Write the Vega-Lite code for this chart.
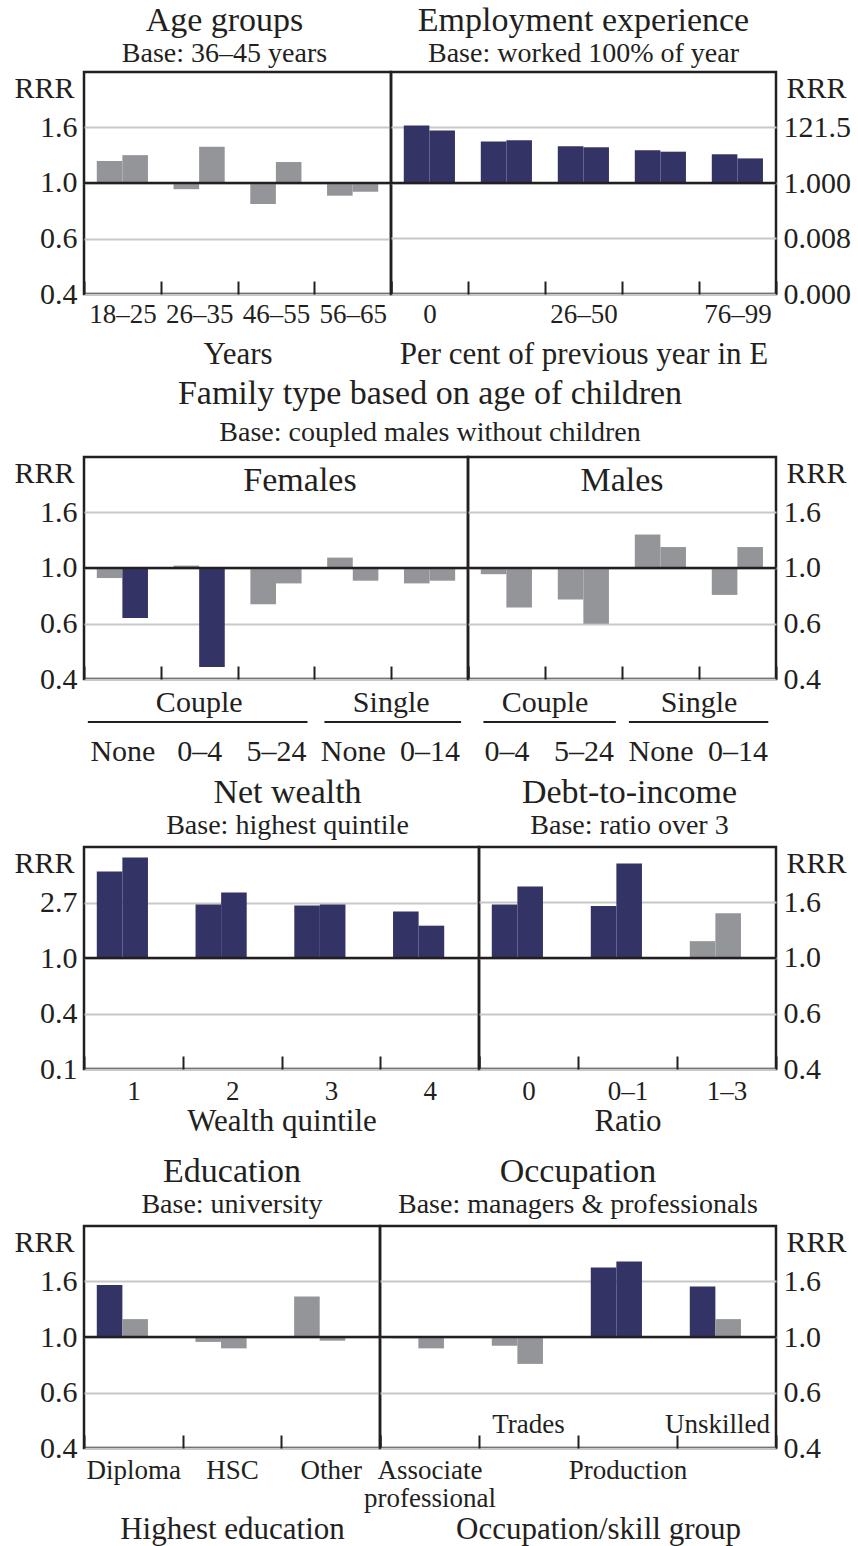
{
  "$schema": "https://vega.github.io/schema/vega-lite/v6.json",
  "padding": {"left": 12, "top": 2, "right": 5, "bottom": 2},
  "background": "white",
  "datasets": {
    "rrr": [
      {"panel": "age", "group": "18–25", "wave": 1, "value": 1.20, "sig": "no"},
      {"panel": "age", "group": "18–25", "wave": 2, "value": 1.26, "sig": "no"},
      {"panel": "age", "group": "26–35", "wave": 1, "value": 0.95, "sig": "no"},
      {"panel": "age", "group": "26–35", "wave": 2, "value": 1.35, "sig": "no"},
      {"panel": "age", "group": "46–55", "wave": 1, "value": 0.84, "sig": "no"},
      {"panel": "age", "group": "46–55", "wave": 2, "value": 1.19, "sig": "no"},
      {"panel": "age", "group": "56–65", "wave": 1, "value": 0.90, "sig": "no"},
      {"panel": "age", "group": "56–65", "wave": 2, "value": 0.93, "sig": "no"},

      {"panel": "emp", "group": "0", "wave": 1, "value": 144, "sig": "yes"},
      {"panel": "emp", "group": "0", "wave": 2, "value": 94, "sig": "yes"},
      {"panel": "emp", "group": "1–25", "wave": 1, "value": 36, "sig": "yes"},
      {"panel": "emp", "group": "1–25", "wave": 2, "value": 40, "sig": "yes"},
      {"panel": "emp", "group": "26–50", "wave": 1, "value": 24, "sig": "yes"},
      {"panel": "emp", "group": "26–50", "wave": 2, "value": 22, "sig": "yes"},
      {"panel": "emp", "group": "51–75", "wave": 1, "value": 17, "sig": "yes"},
      {"panel": "emp", "group": "51–75", "wave": 2, "value": 15, "sig": "yes"},
      {"panel": "emp", "group": "76–99", "wave": 1, "value": 12, "sig": "yes"},
      {"panel": "emp", "group": "76–99", "wave": 2, "value": 8.4, "sig": "yes"},

      {"panel": "fem", "group": "Couple None", "wave": 1, "value": 0.92, "sig": "no"},
      {"panel": "fem", "group": "Couple None", "wave": 2, "value": 0.66, "sig": "yes"},
      {"panel": "fem", "group": "Couple 0–4", "wave": 1, "value": 1.02, "sig": "no"},
      {"panel": "fem", "group": "Couple 0–4", "wave": 2, "value": 0.44, "sig": "yes"},
      {"panel": "fem", "group": "Couple 5–24", "wave": 1, "value": 0.74, "sig": "no"},
      {"panel": "fem", "group": "Couple 5–24", "wave": 2, "value": 0.88, "sig": "no"},
      {"panel": "fem", "group": "Single None", "wave": 1, "value": 1.09, "sig": "no"},
      {"panel": "fem", "group": "Single None", "wave": 2, "value": 0.90, "sig": "no"},
      {"panel": "fem", "group": "Single 0–14", "wave": 1, "value": 0.88, "sig": "no"},
      {"panel": "fem", "group": "Single 0–14", "wave": 2, "value": 0.90, "sig": "no"},

      {"panel": "male", "group": "Couple 0–4", "wave": 1, "value": 0.95, "sig": "no"},
      {"panel": "male", "group": "Couple 0–4", "wave": 2, "value": 0.72, "sig": "no"},
      {"panel": "male", "group": "Couple 5–24", "wave": 1, "value": 0.77, "sig": "no"},
      {"panel": "male", "group": "Couple 5–24", "wave": 2, "value": 0.63, "sig": "no"},
      {"panel": "male", "group": "Single None", "wave": 1, "value": 1.32, "sig": "no"},
      {"panel": "male", "group": "Single None", "wave": 2, "value": 1.19, "sig": "no"},
      {"panel": "male", "group": "Single 0–14", "wave": 1, "value": 0.80, "sig": "no"},
      {"panel": "male", "group": "Single 0–14", "wave": 2, "value": 1.19, "sig": "no"},

      {"panel": "wealth", "group": "1", "wave": 1, "value": 4.75, "sig": "yes"},
      {"panel": "wealth", "group": "1", "wave": 2, "value": 6.11, "sig": "yes"},
      {"panel": "wealth", "group": "2", "wave": 1, "value": 2.62, "sig": "yes"},
      {"panel": "wealth", "group": "2", "wave": 2, "value": 3.25, "sig": "yes"},
      {"panel": "wealth", "group": "3", "wave": 1, "value": 2.57, "sig": "yes"},
      {"panel": "wealth", "group": "3", "wave": 2, "value": 2.62, "sig": "yes"},
      {"panel": "wealth", "group": "4", "wave": 1, "value": 2.31, "sig": "yes"},
      {"panel": "wealth", "group": "4", "wave": 2, "value": 1.79, "sig": "yes"},

      {"panel": "debt", "group": "0", "wave": 1, "value": 1.56, "sig": "yes"},
      {"panel": "debt", "group": "0", "wave": 2, "value": 1.81, "sig": "yes"},
      {"panel": "debt", "group": "0–1", "wave": 1, "value": 1.54, "sig": "yes"},
      {"panel": "debt", "group": "0–1", "wave": 2, "value": 2.19, "sig": "yes"},
      {"panel": "debt", "group": "1–3", "wave": 1, "value": 1.15, "sig": "no"},
      {"panel": "debt", "group": "1–3", "wave": 2, "value": 1.45, "sig": "no"},

      {"panel": "edu", "group": "Diploma", "wave": 1, "value": 1.54, "sig": "yes"},
      {"panel": "edu", "group": "Diploma", "wave": 2, "value": 1.16, "sig": "no"},
      {"panel": "edu", "group": "HSC", "wave": 1, "value": 0.96, "sig": "no"},
      {"panel": "edu", "group": "HSC", "wave": 2, "value": 0.91, "sig": "no"},
      {"panel": "edu", "group": "Other", "wave": 1, "value": 1.40, "sig": "no"},
      {"panel": "edu", "group": "Other", "wave": 2, "value": 0.97, "sig": "no"},

      {"panel": "occ", "group": "Associate professional", "wave": 1, "value": 0.99, "sig": "no"},
      {"panel": "occ", "group": "Associate professional", "wave": 2, "value": 0.91, "sig": "no"},
      {"panel": "occ", "group": "Trades", "wave": 1, "value": 0.93, "sig": "no"},
      {"panel": "occ", "group": "Trades", "wave": 2, "value": 0.80, "sig": "no"},
      {"panel": "occ", "group": "Production", "wave": 1, "value": 1.78, "sig": "yes"},
      {"panel": "occ", "group": "Production", "wave": 2, "value": 1.87, "sig": "yes"},
      {"panel": "occ", "group": "Unskilled", "wave": 1, "value": 1.52, "sig": "yes"},
      {"panel": "occ", "group": "Unskilled", "wave": 2, "value": 1.16, "sig": "no"}
    ]
  },
  "spacing": 6,
  "vconcat": [
    {
      "spacing": 5,
      "vconcat": [
        {
          "spacing": 0,
          "bounds": "flush",
          "hconcat": [
            {
              "width": 307, "height": 222,
              "title": {"text": "Age groups", "subtitle": "Base: 36–45 years", "dx": -13, "offset": 4},
              "layer": [
                {
                  "data": {"name": "rrr"},
                  "transform": [{"filter": "datum.panel === 'age'"}],
                  "mark": "bar",
                  "encoding": {
                    "x": {"field": "group", "type": "nominal", "scale": {"domain": ["18–25", "26–35", "46–55", "56–65"], "paddingInner": 0, "paddingOuter": 0}, "axis": {"title": "Years", "titlePadding": 12}},
                    "xOffset": {"field": "wave", "type": "nominal", "scale": {"paddingInner": 0, "paddingOuter": 0.5}},
                    "y": {"field": "value", "type": "quantitative", "scale": {"type": "log", "domain": [0.398107, 2.511886], "nice": false},
                          "axis": {"orient": "left", "title": "RRR", "values": [0.398107, 0.630957, 1, 1.584893], "format": ".1f", "titleX": -10, "titleY": 16, "titleAlign": "right"}},
                    "y2": {"datum": 1},
                    "color": {"field": "sig", "type": "nominal", "scale": {"domain": ["yes", "no"], "range": ["#333366", "#939598"]}, "legend": null}
                  }
                },
                {"data": {"values": [{}]}, "mark": {"type": "rule", "color": "#231f20", "strokeWidth": 2.5}, "encoding": {"y": {"datum": 1}}}
              ]
            },
            {
              "width": 385, "height": 222,
              "title": {"text": "Employment experience", "subtitle": "Base: worked 100% of year", "offset": 4},
              "layer": [
                {
                  "data": {"name": "rrr"},
                  "transform": [{"filter": "datum.panel === 'emp'"}],
                  "mark": "bar",
                  "encoding": {
                    "x": {"field": "group", "type": "nominal", "scale": {"domain": ["0", "1–25", "26–50", "51–75", "76–99"], "paddingInner": 0, "paddingOuter": 0},
                          "axis": {"title": "Per cent of previous year in E", "titlePadding": 12, "labelExpr": "datum.label == '1–25' || datum.label == '51–75' ? '' : datum.label"}},
                    "xOffset": {"field": "wave", "type": "nominal", "scale": {"paddingInner": 0, "paddingOuter": 0.5}},
                    "y": {"field": "value", "type": "quantitative", "scale": {"type": "log", "domain": [0.0000677287, 14764.78], "nice": false},
                          "axis": {"orient": "right", "title": "RRR", "values": [0.0000677287, 0.00822975, 1, 121.510418], "labelExpr": "datum.value > 100 ? format(datum.value, '.1f') : format(datum.value, '.3f')", "titleX": 10, "titleY": 16, "titleAlign": "left"}},
                    "y2": {"datum": 1},
                    "color": {"field": "sig", "type": "nominal", "scale": {"domain": ["yes", "no"], "range": ["#333366", "#939598"]}, "legend": null}
                  }
                },
                {"data": {"values": [{}]}, "mark": {"type": "rule", "color": "#231f20", "strokeWidth": 2.5}, "encoding": {"y": {"datum": 1}}}
              ]
            }
          ]
        },
        {
          "spacing": 0,
          "bounds": "flush",
          "title": {"text": "Family type based on age of children", "subtitle": "Base: coupled males without children", "frame": "bounds", "subtitlePadding": 8, "offset": 9},
          "hconcat": [
            {
              "width": 384, "height": 222,
              "title": {"text": "Females", "subtitle": "", "offset": -41, "dx": 24},
              "layer": [
                {
                  "data": {"name": "rrr"},
                  "transform": [{"filter": "datum.panel === 'fem'"}],
                  "mark": "bar",
                  "encoding": {
                    "x": {"field": "group", "type": "nominal", "scale": {"domain": ["Couple None", "Couple 0–4", "Couple 5–24", "Single None", "Single 0–14"], "paddingInner": 0, "paddingOuter": 0},
                          "axis": {"title": null, "labelFontSize": 30, "labelPadding": 70, "labelExpr": "split(datum.label, ' ')[1]"}},
                    "xOffset": {"field": "wave", "type": "nominal", "scale": {"paddingInner": 0, "paddingOuter": 0.5}},
                    "y": {"field": "value", "type": "quantitative", "scale": {"type": "log", "domain": [0.398107, 2.511886], "nice": false},
                          "axis": {"orient": "left", "title": "RRR", "values": [0.398107, 0.630957, 1, 1.584893], "format": ".1f", "titleX": -10, "titleY": 16, "titleAlign": "right"}},
                    "y2": {"datum": 1},
                    "color": {"field": "sig", "type": "nominal", "scale": {"domain": ["yes", "no"], "range": ["#333366", "#939598"]}, "legend": null}
                  }
                },
                {"data": {"values": [{}]}, "mark": {"type": "rule", "color": "#231f20", "strokeWidth": 2.5}, "encoding": {"y": {"datum": 1}}},
                {"data": {"values": [{}]}, "mark": {"type": "rule", "color": "#231f20", "strokeWidth": 2, "yOffset": 43},
                 "encoding": {"x": {"datum": "Couple None", "bandPosition": 0.05}, "x2": {"datum": "Couple 5–24", "bandPosition": 0.91}, "y": {"datum": 0.398107}}},
                {"data": {"values": [{}]}, "mark": {"type": "rule", "color": "#231f20", "strokeWidth": 2, "yOffset": 43},
                 "encoding": {"x": {"datum": "Single None", "bandPosition": 0.13}, "x2": {"datum": "Single 0–14", "bandPosition": 0.91}, "y": {"datum": 0.398107}}},
                {"data": {"values": [{}]}, "mark": {"type": "text", "fontSize": 30, "baseline": "alphabetic", "dy": 33, "color": "#231f20"},
                 "encoding": {"x": {"datum": "Couple 0–4"}, "y": {"datum": 0.398107}, "text": {"value": "Couple"}}},
                {"data": {"values": [{}]}, "mark": {"type": "text", "fontSize": 30, "baseline": "alphabetic", "dy": 33, "color": "#231f20"},
                 "encoding": {"x": {"datum": "Single None", "bandPosition": 1}, "y": {"datum": 0.398107}, "text": {"value": "Single"}}}
              ]
            },
            {
              "width": 308, "height": 222,
              "title": {"text": "Males", "subtitle": "", "offset": -41},
              "layer": [
                {
                  "data": {"name": "rrr"},
                  "transform": [{"filter": "datum.panel === 'male'"}],
                  "mark": "bar",
                  "encoding": {
                    "x": {"field": "group", "type": "nominal", "scale": {"domain": ["Couple 0–4", "Couple 5–24", "Single None", "Single 0–14"], "paddingInner": 0, "paddingOuter": 0},
                          "axis": {"title": null, "labelFontSize": 30, "labelPadding": 70, "labelExpr": "split(datum.label, ' ')[1]"}},
                    "xOffset": {"field": "wave", "type": "nominal", "scale": {"paddingInner": 0, "paddingOuter": 0.5}},
                    "y": {"field": "value", "type": "quantitative", "scale": {"type": "log", "domain": [0.398107, 2.511886], "nice": false},
                          "axis": {"orient": "right", "title": "RRR", "values": [0.398107, 0.630957, 1, 1.584893], "format": ".1f", "titleX": 10, "titleY": 16, "titleAlign": "left"}},
                    "y2": {"datum": 1},
                    "color": {"field": "sig", "type": "nominal", "scale": {"domain": ["yes", "no"], "range": ["#333366", "#939598"]}, "legend": null}
                  }
                },
                {"data": {"values": [{}]}, "mark": {"type": "rule", "color": "#231f20", "strokeWidth": 2.5}, "encoding": {"y": {"datum": 1}}},
                {"data": {"values": [{}]}, "mark": {"type": "rule", "color": "#231f20", "strokeWidth": 2, "yOffset": 43},
                 "encoding": {"x": {"datum": "Couple 0–4", "bandPosition": 0.2}, "x2": {"datum": "Couple 5–24", "bandPosition": 0.92}, "y": {"datum": 0.398107}}},
                {"data": {"values": [{}]}, "mark": {"type": "rule", "color": "#231f20", "strokeWidth": 2, "yOffset": 43},
                 "encoding": {"x": {"datum": "Single None", "bandPosition": 0.09}, "x2": {"datum": "Single 0–14", "bandPosition": 0.9}, "y": {"datum": 0.398107}}},
                {"data": {"values": [{}]}, "mark": {"type": "text", "fontSize": 30, "baseline": "alphabetic", "dy": 33, "color": "#231f20"},
                 "encoding": {"x": {"datum": "Couple 0–4", "bandPosition": 1}, "y": {"datum": 0.398107}, "text": {"value": "Couple"}}},
                {"data": {"values": [{}]}, "mark": {"type": "text", "fontSize": 30, "baseline": "alphabetic", "dy": 33, "color": "#231f20"},
                 "encoding": {"x": {"datum": "Single None", "bandPosition": 1}, "y": {"datum": 0.398107}, "text": {"value": "Single"}}}
              ]
            }
          ]
        }
      ]
    },
    {
      "spacing": 15,
      "vconcat": [
        {
          "spacing": 0,
          "bounds": "flush",
          "hconcat": [
            {
              "width": 395, "height": 222,
              "title": {"text": "Net wealth", "subtitle": "Base: highest quintile", "dx": 6},
              "layer": [
                {
                  "data": {"name": "rrr"},
                  "transform": [{"filter": "datum.panel === 'wealth'"}],
                  "mark": "bar",
                  "encoding": {
                    "x": {"field": "group", "type": "nominal", "scale": {"domain": ["1", "2", "3", "4"], "paddingInner": 0, "paddingOuter": 0}, "axis": {"title": "Wealth quintile", "labelPadding": 22, "titlePadding": 2}},
                    "xOffset": {"field": "wave", "type": "nominal", "scale": {"paddingInner": 0, "paddingOuter": 0.5}},
                    "y": {"field": "value", "type": "quantitative", "scale": {"type": "log", "domain": [0.1353353, 7.389056], "nice": false},
                          "axis": {"orient": "left", "title": "RRR", "values": [0.1353353, 0.3678794, 1, 2.7182818], "format": ".1f", "titleX": -10, "titleY": 16, "titleAlign": "right"}},
                    "y2": {"datum": 1},
                    "color": {"field": "sig", "type": "nominal", "scale": {"domain": ["yes", "no"], "range": ["#333366", "#939598"]}, "legend": null}
                  }
                },
                {"data": {"values": [{}]}, "mark": {"type": "rule", "color": "#231f20", "strokeWidth": 2.5}, "encoding": {"y": {"datum": 1}}}
              ]
            },
            {
              "width": 297, "height": 222,
              "title": {"text": "Debt-to-income", "subtitle": "Base: ratio over 3", "dx": 2},
              "layer": [
                {
                  "data": {"name": "rrr"},
                  "transform": [{"filter": "datum.panel === 'debt'"}],
                  "mark": "bar",
                  "encoding": {
                    "x": {"field": "group", "type": "nominal", "scale": {"domain": ["0", "0–1", "1–3"], "paddingInner": 0, "paddingOuter": 0}, "axis": {"title": "Ratio", "labelPadding": 22, "titlePadding": 2}},
                    "xOffset": {"field": "wave", "type": "nominal", "scale": {"paddingInner": 0, "paddingOuter": 0.5}},
                    "y": {"field": "value", "type": "quantitative", "scale": {"type": "log", "domain": [0.398107, 2.511886], "nice": false},
                          "axis": {"orient": "right", "title": "RRR", "values": [0.398107, 0.630957, 1, 1.584893], "format": ".1f", "titleX": 10, "titleY": 16, "titleAlign": "left"}},
                    "y2": {"datum": 1},
                    "color": {"field": "sig", "type": "nominal", "scale": {"domain": ["yes", "no"], "range": ["#333366", "#939598"]}, "legend": null}
                  }
                },
                {"data": {"values": [{}]}, "mark": {"type": "rule", "color": "#231f20", "strokeWidth": 2.5}, "encoding": {"y": {"datum": 1}}}
              ]
            }
          ]
        },
        {
          "spacing": 0,
          "bounds": "flush",
          "hconcat": [
            {
              "width": 296, "height": 222,
              "title": {"text": "Education", "subtitle": "Base: university"},
              "layer": [
                {
                  "data": {"name": "rrr"},
                  "transform": [{"filter": "datum.panel === 'edu'"}],
                  "mark": "bar",
                  "encoding": {
                    "x": {"field": "group", "type": "nominal", "scale": {"domain": ["Diploma", "HSC", "Other"], "paddingInner": 0, "paddingOuter": 0}, "axis": {"title": "Highest education", "labelPadding": 22, "titlePadding": 31}},
                    "xOffset": {"field": "wave", "type": "nominal", "scale": {"paddingInner": 0, "paddingOuter": 0.5}},
                    "y": {"field": "value", "type": "quantitative", "scale": {"type": "log", "domain": [0.398107, 2.511886], "nice": false},
                          "axis": {"orient": "left", "title": "RRR", "values": [0.398107, 0.630957, 1, 1.584893], "format": ".1f", "titleX": -10, "titleY": 16, "titleAlign": "right"}},
                    "y2": {"datum": 1},
                    "color": {"field": "sig", "type": "nominal", "scale": {"domain": ["yes", "no"], "range": ["#333366", "#939598"]}, "legend": null}
                  }
                },
                {"data": {"values": [{}]}, "mark": {"type": "rule", "color": "#231f20", "strokeWidth": 2.5}, "encoding": {"y": {"datum": 1}}}
              ]
            },
            {
              "width": 396, "height": 222,
              "title": {"text": "Occupation", "subtitle": "Base: managers & professionals"},
              "layer": [
                {
                  "data": {"name": "rrr"},
                  "transform": [{"filter": "datum.panel === 'occ'"}],
                  "mark": "bar",
                  "encoding": {
                    "x": {"field": "group", "type": "nominal", "scale": {"domain": ["Associate professional", "Trades", "Production", "Unskilled"], "paddingInner": 0, "paddingOuter": 0},
                          "axis": {"title": "Occupation/skill group", "titleX": 218, "labelPadding": 22, "titlePadding": 3, "labelLineHeight": 28,
                                   "labelExpr": "datum.label == 'Associate professional' ? ['Associate', 'professional'] : (datum.label == 'Production' ? 'Production' : '')"}},
                    "xOffset": {"field": "wave", "type": "nominal", "scale": {"paddingInner": 0, "paddingOuter": 0.5}},
                    "y": {"field": "value", "type": "quantitative", "scale": {"type": "log", "domain": [0.398107, 2.511886], "nice": false},
                          "axis": {"orient": "right", "title": "RRR", "values": [0.398107, 0.630957, 1, 1.584893], "format": ".1f", "titleX": 10, "titleY": 16, "titleAlign": "left"}},
                    "y2": {"datum": 1},
                    "color": {"field": "sig", "type": "nominal", "scale": {"domain": ["yes", "no"], "range": ["#333366", "#939598"]}, "legend": null}
                  }
                },
                {"data": {"values": [{}]}, "mark": {"type": "rule", "color": "#231f20", "strokeWidth": 2.5}, "encoding": {"y": {"datum": 1}}},
                {"data": {"values": [{}]}, "mark": {"type": "text", "fontSize": 27, "baseline": "alphabetic", "dy": -15, "color": "#231f20"},
                 "encoding": {"x": {"datum": "Trades"}, "y": {"datum": 0.398107}, "text": {"value": "Trades"}}},
                {"data": {"values": [{}]}, "mark": {"type": "text", "fontSize": 27, "baseline": "alphabetic", "dy": -15, "dx": -9, "color": "#231f20"},
                 "encoding": {"x": {"datum": "Unskilled"}, "y": {"datum": 0.398107}, "text": {"value": "Unskilled"}}}
              ]
            }
          ]
        }
      ]
    }
  ],
  "config": {
    "font": "Liberation Serif",
    "view": {"stroke": "#231f20", "strokeWidth": 2.5},
    "text": {"font": "Liberation Serif"},
    "title": {"font": "Liberation Serif", "fontSize": 34, "fontWeight": "normal", "color": "#231f20",
              "subtitleFont": "Liberation Serif", "subtitleFontSize": 28, "subtitleColor": "#231f20",
              "subtitlePadding": 2, "offset": 7, "anchor": "middle", "frame": "group"},
    "axis": {"labelFont": "Liberation Serif", "titleFont": "Liberation Serif", "labelColor": "#231f20", "titleColor": "#231f20", "titleFontWeight": "normal", "domain": false},
    "axisX": {"labelAngle": 0, "labelFontSize": 27, "titleFontSize": 31, "ticks": true, "tickBand": "extent", "tickSize": -13, "tickWidth": 2, "tickColor": "#231f20", "labelPadding": 20, "grid": false},
    "axisY": {"labelFontSize": 30, "titleFontSize": 30, "ticks": false, "labelPadding": 7, "grid": true, "gridColor": "#c8c8c8", "gridWidth": 2, "titleAngle": 0, "titleBaseline": "middle"}
  }
}
